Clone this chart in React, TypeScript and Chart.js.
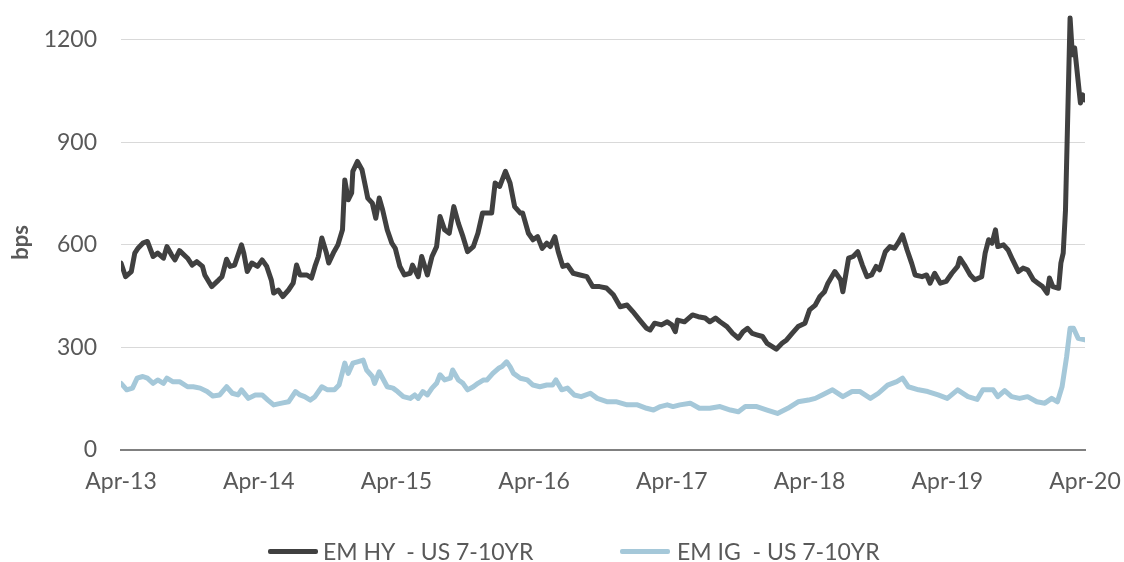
import { useEffect, useRef } from 'react';
import { Chart, registerables } from 'chart.js';

Chart.register(...registerables);

// Months since Apr-2013 and spread (bps)
const HY_MONTH = [
  0.0, 0.4, 0.9, 1.2, 1.5, 1.9, 2.3, 2.8, 3.2, 3.7,
  4.0, 4.4, 4.7, 5.1, 5.8, 6.2, 6.6, 7.1, 7.3, 7.9,
  8.5, 8.8, 9.2, 9.5, 9.9, 10.1, 10.5, 10.7, 11.0, 11.4,
  11.9, 12.3, 12.7, 13.1, 13.3, 13.7, 14.1, 14.6, 15.0, 15.3,
  15.6, 16.2, 16.6, 16.9, 17.2, 17.5, 17.9, 18.1, 18.5, 18.9,
  19.3, 19.5, 19.8, 20.1, 20.2, 20.6, 21.0, 21.3, 21.5, 21.9,
  22.2, 22.5, 22.8, 23.2, 23.6, 23.9, 24.3, 24.7, 25.2, 25.4,
  25.9, 26.2, 26.7, 27.1, 27.5, 27.8, 28.2, 28.6, 29.0, 29.4,
  29.8, 30.2, 30.7, 31.1, 31.5, 31.9, 32.3, 32.6, 33.0, 33.5,
  33.9, 34.3, 34.8, 35.0, 35.5, 35.9, 36.3, 36.7, 37.1, 37.4,
  37.8, 38.1, 38.5, 38.9, 39.4, 40.0, 40.6, 41.1, 41.7, 42.3,
  42.9, 43.5, 44.1, 44.6, 45.2, 45.8, 46.1, 46.5, 47.1, 47.6,
  48.0, 48.3, 48.5, 49.1, 49.8, 50.3, 50.9, 51.3, 51.8, 52.2,
  52.8, 53.3, 53.8, 54.2, 54.6, 55.0, 55.4, 55.9, 56.3, 57.1,
  57.6, 58.0, 58.5, 59.0, 59.6, 60.0, 60.5, 60.9, 61.3, 61.6,
  62.2, 62.7, 62.9, 63.4, 63.8, 64.2, 64.6, 65.0, 65.4, 65.8,
  66.1, 66.6, 67.0, 67.4, 67.7, 68.1, 68.5, 68.9, 69.2, 69.8,
  70.2, 70.5, 70.9, 71.4, 71.9, 72.4, 72.9, 73.1, 73.5, 74.0,
  74.4, 75.0, 75.3, 75.6, 75.9, 76.2, 76.4, 76.9, 77.3, 77.7,
  78.2, 78.6, 79.0, 79.5, 79.9, 80.3, 80.7, 80.9, 81.2, 81.7,
  81.9, 82.1, 82.3, 82.7, 82.9, 83.1, 83.6, 83.8, 84.0,
];
const HY_VALUE = [
  547, 507, 522, 576, 591, 605, 610, 566, 576, 561,
  595, 571, 556, 583, 561, 541, 551, 537, 512, 478,
  497, 507, 558, 537, 541, 561, 600, 576, 522, 547,
  537, 556, 537, 497, 459, 468, 449, 468, 488, 541,
  512, 512, 503, 537, 566, 620, 576, 547, 576, 600,
  644, 790, 732, 752, 815, 844, 820, 771, 737, 722,
  678, 737, 702, 644, 605, 590, 537, 512, 517, 541,
  507, 566, 512, 566, 595, 683, 644, 634, 712, 663,
  624, 580, 595, 634, 693, 693, 693, 781, 771, 815,
  781, 712, 693, 693, 634, 615, 624, 590, 605, 595,
  624, 580, 537, 541, 517, 512, 507, 478, 478, 474,
  454, 419, 424, 405, 380, 356, 351, 371, 366, 375,
  366, 346, 380, 375, 395, 390, 386, 375, 386, 375,
  361, 341, 327, 346, 356, 341, 337, 332, 312, 295,
  312, 322, 342, 361, 371, 410, 424, 449, 463, 488,
  522, 498, 463, 561, 566, 580, 541, 507, 512, 537,
  527, 580, 595, 590, 605, 629, 585, 546, 512, 507,
  512, 488, 517, 488, 493, 517, 537, 561, 541, 512,
  498, 507, 576, 615, 605, 644, 595, 600, 585, 556,
  522, 532, 527, 498, 488, 478, 459, 503, 478, 473,
  547, 576, 702, 1264, 1156, 1176, 1015, 1039, 1024,
];

const IG_MONTH = [
  0.0, 0.5, 1.0, 1.4, 1.9, 2.3, 2.8, 3.2, 3.7, 4.0,
  4.5, 5.1, 5.8, 6.3, 6.9, 7.5, 8.0, 8.6, 9.2, 9.7,
  10.2, 10.5, 11.1, 11.7, 12.3, 12.8, 13.3, 14.0, 14.6, 15.2,
  15.6, 16.0, 16.5, 16.9, 17.5, 18.0, 18.6, 19.0, 19.5, 19.8,
  20.2, 20.6, 21.1, 21.4, 21.9, 22.1, 22.5, 22.8, 23.2, 23.7,
  24.1, 24.6, 25.2, 25.6, 25.9, 26.3, 26.7, 27.1, 27.5, 27.8,
  28.2, 28.7, 28.9, 29.4, 29.8, 30.2, 30.7, 31.1, 31.6, 31.9,
  32.4, 32.9, 33.2, 33.6, 33.9, 34.2, 34.8, 35.4, 35.9, 36.5,
  37.1, 37.6, 37.9, 38.4, 38.9, 39.5, 40.1, 40.9, 41.5, 42.4,
  43.2, 44.1, 45.0, 45.8, 46.4, 47.0, 47.6, 48.1, 48.7, 49.6,
  50.4, 51.3, 52.2, 53.1, 53.8, 54.4, 55.4, 56.3, 57.2, 58.1,
  59.0, 59.9, 60.5, 61.1, 62.0, 62.9, 63.7, 64.4, 65.3, 66.0,
  66.8, 67.6, 68.1, 68.6, 69.5, 70.3, 71.2, 72.0, 72.9, 73.8,
  74.6, 75.1, 76.0, 76.4, 77.0, 77.6, 78.3, 79.0, 79.8, 80.5,
  81.1, 81.6, 82.0, 82.4, 82.7, 83.0, 83.4, 84.0,
];
const IG_VALUE = [
  195, 176, 181, 210, 215, 210, 195, 205, 195, 210,
  200, 200, 185, 185, 181, 171, 158, 161, 185, 166,
  161, 176, 151, 161, 161, 146, 132, 137, 141, 171,
  161, 156, 146, 156, 185, 176, 176, 190, 254, 224,
  254, 258, 263, 234, 215, 195, 229, 210, 185, 181,
  171, 156, 151, 161, 151, 171, 161, 181, 195, 220,
  205, 210, 234, 205, 195, 176, 185, 195, 205, 205,
  224, 239, 244, 258, 244, 224, 210, 205, 190, 185,
  190, 190, 205, 176, 181, 161, 156, 166, 151, 141,
  141, 132, 132, 122, 117, 127, 132, 127, 132, 137,
  122, 122, 127, 117, 112, 127, 127, 117, 107, 122,
  141, 146, 151, 161, 176, 156, 171, 171, 151, 166,
  190, 200, 210, 185, 176, 171, 161, 151, 176, 156,
  148, 176, 176, 156, 174, 156, 151, 156, 141, 137,
  151, 141, 185, 273, 356, 356, 327, 322,
];

const X_TICK_LABELS = ['Apr-13', 'Apr-14', 'Apr-15', 'Apr-16', 'Apr-17', 'Apr-18', 'Apr-19', 'Apr-20'];
const Y_TICKS = [0, 300, 600, 900, 1200];
const Y_TITLE = 'bps';
const SERIES_NAMES = ['EM HY  - US 7-10YR', 'EM IG  - US 7-10YR'];
const COLORS = ['#404040', '#A5C8D9'];

const FONT_FAMILY = 'Lato, "Open Sans", sans-serif';
const TEXT_COLOR = '#595959';

// Draws the rotated y-axis title beside the tick labels
const yTitlePlugin = {
  id: 'yTitle',
  afterDraw(chart: any) {
    const { ctx, chartArea } = chart;
    ctx.save();
    ctx.translate(21, chartArea.top + (chartArea.bottom - chartArea.top) / 2 + 13);
    ctx.rotate(-Math.PI / 2);
    ctx.font = `bold 22px ${FONT_FAMILY}`;
    ctx.fillStyle = TEXT_COLOR;
    ctx.textAlign = 'center';
    ctx.textBaseline = 'middle';
    ctx.fillText(Y_TITLE, 0, 0);
    ctx.restore();
  },
};

export default function App() {
  const ref = useRef<HTMLCanvasElement>(null);

  useEffect(() => {
    document.body.style.margin = '0';
    const chart = new Chart(ref.current as HTMLCanvasElement, {
      type: 'line',
      data: {
        datasets: [
          {
            label: SERIES_NAMES[0],
            data: HY_MONTH.map((m, i) => ({ x: m, y: HY_VALUE[i] })),
            borderColor: COLORS[0],
            backgroundColor: COLORS[0],
            borderWidth: 5,
            pointRadius: 0,
            tension: 0,
            borderJoinStyle: 'round',
            borderCapStyle: 'round',
          },
          {
            label: SERIES_NAMES[1],
            data: IG_MONTH.map((m, i) => ({ x: m, y: IG_VALUE[i] })),
            borderColor: COLORS[1],
            backgroundColor: COLORS[1],
            borderWidth: 5,
            pointRadius: 0,
            tension: 0,
            borderJoinStyle: 'round',
            borderCapStyle: 'round',
          },
        ],
      },
      options: {
        responsive: false,
        animation: false,
        layout: { padding: { left: 0, right: 39, top: 9, bottom: 0 } },
        scales: {
          x: {
            type: 'linear',
            min: 0,
            max: 84,
            afterBuildTicks: (scale: any) => {
              scale.ticks = X_TICK_LABELS.map((_, i) => ({ value: i * 12 }));
            },
            afterFit: (scale: any) => {
              scale.height = 112;
              scale.paddingLeft = 0;
              scale.paddingRight = 0;
            },
            ticks: {
              autoSkip: false,
              maxRotation: 0,
              padding: 18,
              color: TEXT_COLOR,
              font: { family: FONT_FAMILY, size: 23 },
              callback: (v: any) => X_TICK_LABELS[Math.round(Number(v) / 12)],
            },
            grid: { display: false, drawTicks: false },
            border: { display: true, color: '#808080', width: 2 },
          },
          y: {
            min: 0,
            max: 1290,
            afterBuildTicks: (scale: any) => {
              scale.ticks = Y_TICKS.map((v) => ({ value: v }));
            },
            afterFit: (scale: any) => {
              scale.width = 121;
              scale.paddingTop = 0;
              scale.paddingBottom = 0;
            },
            ticks: {
              padding: 24,
              color: TEXT_COLOR,
              font: { family: FONT_FAMILY, size: 23 },
              callback: (v: any) => String(v),
            },
            grid: { color: '#D9D9D9', lineWidth: 1, drawTicks: false },
            border: { display: false },
          },
        },
        plugins: {
          legend: { display: false },
          tooltip: { enabled: false },
        },
      },
      plugins: [yTitlePlugin],
    });
    return () => chart.destroy();
  }, []);

  const legendText = {
    position: 'absolute' as const,
    top: 537,
    fontFamily: FONT_FAMILY,
    fontSize: 23,
    color: TEXT_COLOR,
    lineHeight: '28px',
    whiteSpace: 'pre' as const,
  };
  const legendLine = (left: number, color: string) => ({
    position: 'absolute' as const,
    left,
    top: 549,
    width: 50,
    height: 5,
    borderRadius: 2,
    background: color,
  });

  return (
    <div style={{ position: 'relative', width: 1124, height: 562 }}>
      <canvas ref={ref} width={1124} height={562} style={{ display: 'block' }} />
      <div style={legendLine(268, COLORS[0])} />
      <div style={{ ...legendText, left: 323 }}>{SERIES_NAMES[0]}</div>
      <div style={legendLine(620, COLORS[1])} />
      <div style={{ ...legendText, left: 677 }}>{SERIES_NAMES[1]}</div>
    </div>
  );
}
